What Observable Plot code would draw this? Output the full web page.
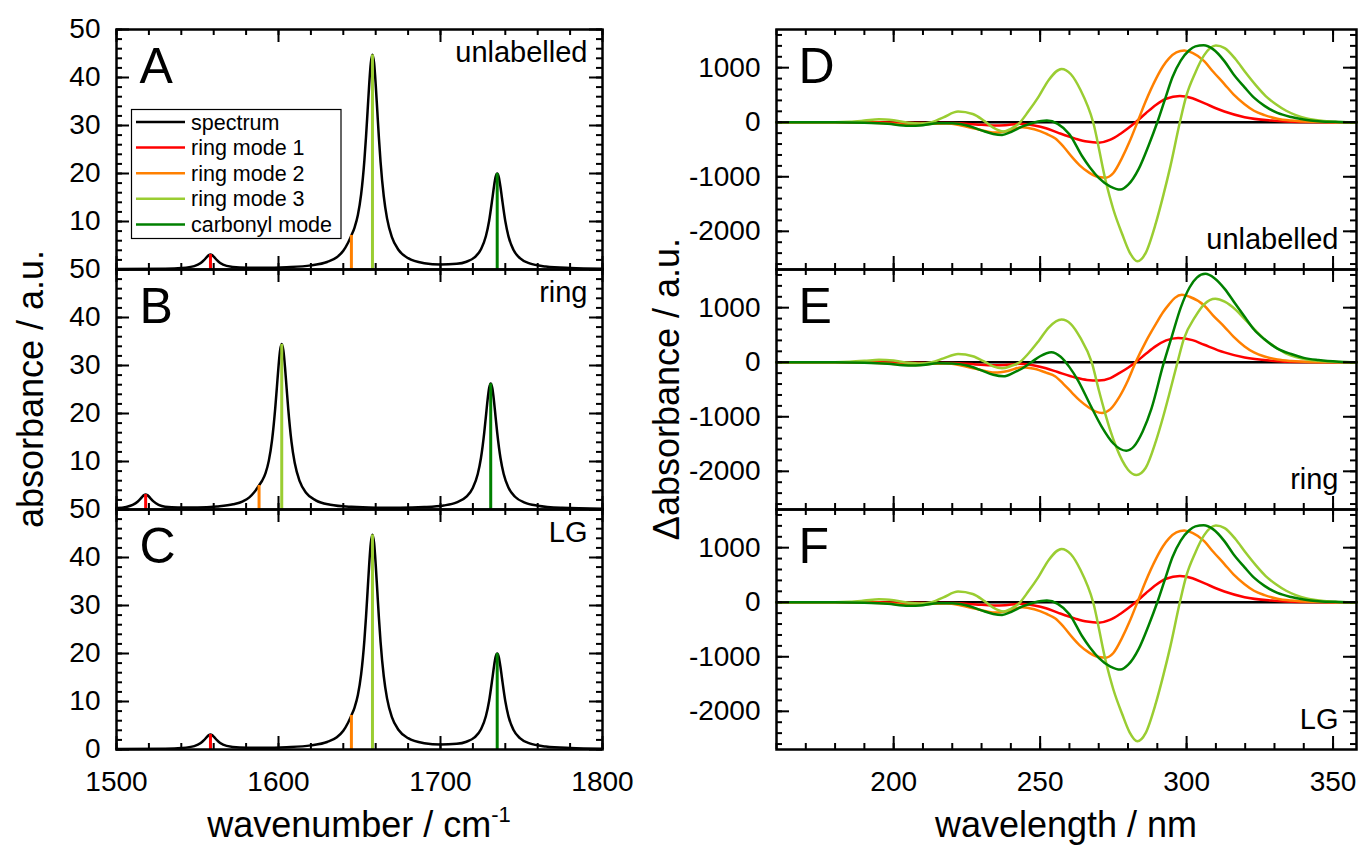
<!DOCTYPE html>
<html><head><meta charset="utf-8">
<script src="https://cdn.jsdelivr.net/npm/d3@7"></script>
<script src="https://cdn.jsdelivr.net/npm/@observablehq/plot@0.6"></script>
<style>
body{margin:0;background:#fff;}
#fig{position:relative;width:1361px;height:845px;overflow:hidden;background:#fff;}
.panel{position:absolute;}
#fig svg{max-width:none !important;overflow:visible;}
#overlay{position:absolute;left:0;top:0;pointer-events:none;}
</style></head><body><div id="fig"></div>
<script>
// ---------- labels / categories ----------
const modeNames = ["spectrum", "ring mode 1", "ring mode 2", "ring mode 3", "carbonyl mode"];
const modeColors = ["#000000", "#ff0000", "#ff8000", "#9acd32", "#008000"];
const panelLetters = ["A", "B", "C", "D", "E", "F"];
const panelLabels = ["unlabelled", "ring", "LG"];
const wavenumberTicks = [1500, 1600, 1700, 1800];
const absorbanceTicks = [0, 10, 20, 30, 40, 50];
const wavelengthTicks = [200, 250, 300, 350];
const deltaTicks = [-2000, -1000, 0, 1000];

// ---------- stick spectra (cm-1, height) ----------
const stickPosUnl = [1558, 1645, 1658, 1735];
const stickHtUnl = [3.1, 7.1, 44.7, 20.0];
const stickPosRing = [1518, 1588, 1602, 1731];
const stickHtRing = [3.1, 5.0, 34.4, 26.2];
const stickPosLG = [1558, 1645, 1658, 1735];
const stickHtLG = [3.1, 7.1, 44.7, 20.0];

// ---------- IR spectra [wavenumber, absorbance] ----------
const specUnl = [[1500,0.08],[1530,0.17],[1540,0.31],[1548,0.71],[1552,1.34],[1554,1.94],[1556,2.69],[1557,2.99],[1558,3.10],[1559,2.99],[1560,2.70],[1562,1.94],[1564,1.35],[1568,0.75],[1576,0.41],[1590,0.35],[1605,0.48],[1620,0.86],[1630,1.56],[1636,2.55],[1640,3.90],[1643,5.63],[1645,7.10],[1647,8.80],[1649,11.35],[1651,15.63],[1653,22.69],[1654,27.52],[1655,33.05],[1656,38.65],[1657,43.05],[1658,44.75],[1659,43.02],[1660,38.58],[1661,32.93],[1662,27.33],[1663,22.43],[1665,15.21],[1667,10.65],[1670,6.74],[1674,4.12],[1680,2.36],[1690,1.32],[1700,1.03],[1710,1.18],[1716,1.62],[1721,2.52],[1725,4.21],[1728,6.92],[1730,10.11],[1732,14.76],[1733,17.27],[1734,19.24],[1735,19.99],[1736,19.23],[1737,17.25],[1738,14.74],[1740,10.07],[1742,6.85],[1745,4.11],[1749,2.37],[1755,1.27],[1765,0.63],[1780,0.31],[1800,0.17]];
const specRing = [[1500,0.31],[1506,0.55],[1510,0.96],[1513,1.62],[1515,2.32],[1516,2.70],[1517,3.00],[1518,3.12],[1519,3.00],[1520,2.71],[1521,2.33],[1523,1.63],[1526,0.98],[1530,0.59],[1538,0.42],[1550,0.42],[1562,0.63],[1572,1.08],[1578,1.70],[1582,2.52],[1585,3.59],[1588,5.03],[1590,6.07],[1592,7.58],[1594,10.13],[1596,14.42],[1598,21.19],[1599,25.45],[1600,29.78],[1601,33.17],[1602,34.46],[1603,33.12],[1604,29.70],[1605,25.34],[1606,21.03],[1608,14.16],[1610,9.72],[1613,5.95],[1617,3.51],[1623,1.91],[1632,1.00],[1645,0.55],[1660,0.39],[1675,0.37],[1690,0.50],[1702,0.84],[1710,1.48],[1716,2.68],[1720,4.55],[1723,7.41],[1725,10.79],[1727,16.03],[1728,19.31],[1729,22.64],[1730,25.24],[1731,26.25],[1732,25.24],[1733,22.64],[1734,19.30],[1735,16.02],[1737,10.78],[1739,7.40],[1742,4.53],[1746,2.66],[1752,1.44],[1760,0.79],[1775,0.35],[1800,0.15]];
const specLG = specUnl;

// ---------- difference spectra [wavelength nm, delta absorbance] ----------
const dUnlRing1 = [[160,0],[195,0],[205,-8],[212,-12],[220,-15],[228,-40],[234,-60],[238,-55],[243,-30],[248,-60],[252,-110],[256,-190],[262,-300],[266,-355],[270,-374],[274,-320],[277,-226],[280,-110],[282.6,0],[286,160],[289.5,317],[293,430],[297.7,483],[302,440],[306,349],[312.9,196],[319.8,92],[328.9,31],[338,5],[358,0]];
const dUnlRing2 = [[160,0],[185,0],[195,-15],[203,-45],[208,-50],[213,-30],[218,-25],[223,-60],[228,-120],[234.6,-190],[239,-160],[244,-90],[248,-130],[252,-210],[255.2,-300],[258,-450],[260.9,-640],[263.5,-790],[266.6,-920],[269,-990],[272.3,-1016],[275,-930],[278,-650],[280.5,-360],[283.2,0],[286,380],[289.5,790],[292,1030],[294,1170],[296.5,1280],[299.2,1314],[302,1270],[306,1120],[309,930],[312.9,700],[316,510],[319.8,330],[323,210],[326.6,130],[331,65],[335.7,30],[342,8],[350,0],[358,0]];
const dUnlRing3 = [[160,0],[175,0],[185,10],[190,30],[195,55],[200,35],[205,-10],[209,-25],[213,0],[217,90],[222,195],[227,150],[231,20],[234,-100],[237.5,-172],[240,-120],[243,-10],[246,200],[249.5,470],[253,780],[257.3,978],[260.5,880],[263.7,600],[268.1,0],[272.3,-1060],[275,-1600],[278,-2050],[280.5,-2380],[283.2,-2550],[286,-2400],[289.5,-1850],[292,-1350],[294.5,-800],[297.7,0],[300,500],[302.9,900],[306,1230],[310,1406],[313,1360],[316.8,1150],[320,920],[323.6,680],[327,480],[330.5,330],[334,210],[337.3,130],[341,70],[344,40],[350,10],[358,0]];
const dUnlCarb = [[160,0],[180,0],[190,-10],[198,-30],[205,-65],[210,-55],[215,-20],[220,-20],[225,-60],[230,-150],[234,-215],[237,-232],[240,-180],[244,-75],[248,-5],[252.3,30],[256,-30],[260,-220],[264.3,-620],[267,-830],[270,-1020],[274,-1180],[277.4,-1235],[280,-1150],[283.7,-850],[287,-430],[290,0],[292.5,400],[295.2,830],[298,1130],[300.9,1320],[303,1390],[305.8,1410],[309,1340],[312.9,1120],[316,880],[319.8,640],[323,450],[326.6,300],[331,170],[335.7,95],[340,50],[345,20],[352,5],[358,0]];

const dRingRing1 = [[160,0],[195,0],[205,-8],[212,-12],[220,-15],[228,-40],[234,-55],[238,-50],[243,-30],[248,-60],[252,-110],[256,-180],[262,-280],[266,-325],[270,-337],[274,-290],[277,-200],[280,-100],[282.6,0],[286,150],[289.5,295],[293,400],[297.1,446],[302,405],[306,320],[312.9,180],[319.8,85],[328.9,28],[338,5],[358,0]];
const dRingRing2 = [[160,0],[185,0],[195,-15],[203,-45],[208,-50],[213,-30],[218,-25],[223,-60],[228,-120],[234.6,-190],[239,-160],[244,-90],[248,-120],[252,-190],[255.2,-260],[258,-400],[260.9,-560],[263.5,-700],[266.6,-830],[269,-905],[271.1,-930],[274,-860],[277,-640],[280,-330],[282.6,0],[286,370],[289.5,700],[292,920],[294,1060],[296,1180],[298.4,1235],[301,1200],[306,1040],[309,860],[312.9,650],[316,470],[319.8,290],[323,180],[326.6,105],[331,50],[335.7,22],[342,5],[350,0],[358,0]];
const dRingRing3 = [[160,0],[175,0],[185,10],[190,25],[195,45],[200,30],[205,-10],[209,-25],[213,0],[217,70],[222,152],[227,110],[231,10],[234,-75],[237,-110],[240,-70],[243,0],[246,160],[249.5,390],[253,640],[257.3,782],[260.5,700],[263.7,450],[267.6,0],[270,-505],[272,-900],[274,-1260],[276,-1560],[278,-1800],[280,-1970],[282.9,-2068],[286,-1940],[289.5,-1450],[292,-1000],[294,-600],[296.9,0],[299,420],[302.9,830],[306,1060],[309.8,1162],[313,1110],[316.8,960],[320,780],[323.6,580],[327,400],[330.5,270],[334,160],[337.3,95],[341,50],[344,30],[350,8],[358,0]];
const dRingCarb = [[160,0],[180,0],[190,-10],[198,-30],[205,-60],[210,-50],[215,-20],[220,-25],[225,-60],[230,-150],[234,-230],[237.5,-257],[241,-190],[244,-110],[247,0],[250,110],[253.8,183],[257,100],[260,-90],[263,-340],[267,-770],[271,-1180],[275,-1490],[279.4,-1622],[282,-1545],[285,-1270],[288,-850],[292,-50],[295,480],[298,1000],[301,1370],[303.5,1550],[306.4,1620],[309.5,1540],[313,1345],[316.5,1080],[320,820],[323,600],[326.6,420],[331,250],[335.7,150],[340,80],[345,40],[352,10],[358,0]];

const dLGRing1 = dUnlRing1, dLGRing2 = dUnlRing2, dLGRing3 = dUnlRing3, dLGCarb = dUnlCarb;

// ---------- layout ----------
const FONT = '"Liberation Sans", Arial, Helvetica, sans-serif';
const fig = document.getElementById("fig");
const frameH = 240;
const panelTops = [0, 240, 480];
const wnMinor = d3.range(1500, 1801, 20);
const absMinor = d3.range(0, 51, 2);
const wlMinor = d3.range(160, 358, 10);
const dMinor = d3.range(-2600, 1701, 200);
const tickStyle = {stroke: "black", strokeWidth: 2};

function frameTicks(xs, ys, innerW, innerH, len) {
  return [
    Plot.tickX(xs, {x: d => d, insetTop: innerH - len, ...tickStyle}),
    Plot.tickX(xs, {x: d => d, insetBottom: innerH - len, ...tickStyle}),
    Plot.tickY(ys, {y: d => d, insetRight: innerW - len, ...tickStyle}),
    Plot.tickY(ys, {y: d => d, insetLeft: innerW - len, ...tickStyle})
  ];
}

function place(svg, left, top, w) {
  const div = document.createElement("div");
  div.className = "panel";
  div.style.left = left + "px";
  div.style.top = top + "px";
  div.style.width = w + "px";
  div.appendChild(svg);
  fig.appendChild(div);
}

function makeLeft(i, spec, stickPos, stickHt) {
  const last = i === 2;
  const W = 612, ml = 116, mr = 10, mt = 29, mb = last ? 96 : 30;
  const innerW = W - ml - mr;
  const sticks = stickPos.map((x, k) => ({x, y: stickHt[k], c: modeColors[k + 1]}));
  // the "0" of an upper panel sits exactly under the "0" of the next panel's "50"
  const yLabels = last ? absorbanceTicks : absorbanceTicks.filter(d => d !== 0);
  const marks = [
    Plot.line(spec, {x: d => d[0], y: d => d[1], curve: "monotone-x", stroke: "black", strokeWidth: 2.5}),
    ...sticks.map(s => Plot.ruleX([s], {x: "x", y1: 0, y2: "y", stroke: s.c, strokeWidth: 3})),
    ...frameTicks(wnMinor, absMinor, innerW, frameH, 6),
    ...frameTicks(wavenumberTicks, absorbanceTicks, innerW, frameH, 13),
    Plot.frame({stroke: "black", strokeWidth: 2.5}),
    Plot.axisY({ticks: yLabels, tickSize: 0, tickPadding: 16, fontSize: 28, tickFormat: d => String(d), label: null}),
    Plot.text([panelLetters[i]], {text: d => d, frameAnchor: "top-left", dx: 23, dy: 18, lineAnchor: "top", fontSize: 50}),
    Plot.text([panelLabels[i]], {text: d => d, frameAnchor: "top-right", textAnchor: "end", dx: -15, dy: 32, lineAnchor: "bottom", fontSize: 29})
  ];
  if (last) marks.push(Plot.axisX({ticks: wavenumberTicks, tickSize: 0, tickPadding: 22, fontSize: 28, tickFormat: d => String(d), label: null}));
  const svg = Plot.plot({
    width: W, height: mt + frameH + mb,
    marginLeft: ml, marginRight: mr, marginTop: mt, marginBottom: mb,
    x: {domain: [1500, 1800], axis: null},
    y: {domain: [0, 50], axis: null},
    style: {background: "none", fontFamily: FONT, color: "black", overflow: "visible"},
    marks
  });
  place(svg, 0, panelTops[i], W);
}

function makeRight(i, curves) {
  const last = i === 2;
  const W = 681, ml = 96, mr = 5, mt = 29, mb = last ? 96 : 30;
  const innerW = W - ml - mr;
  const marks = [
    Plot.ruleY([0], {stroke: "black", strokeWidth: 2.5}),
    ...curves.map((c, k) => Plot.line(c, {x: d => d[0], y: d => d[1], curve: "monotone-x", stroke: modeColors[k + 1], strokeWidth: 2.5})),
    ...frameTicks(wlMinor, dMinor, innerW, frameH, 6),
    ...frameTicks(wavelengthTicks, deltaTicks, innerW, frameH, 13),
    Plot.frame({stroke: "black", strokeWidth: 2.5}),
    Plot.axisY({ticks: deltaTicks, tickSize: 0, tickPadding: 16, fontSize: 28, tickFormat: d => String(d), label: null}),
    Plot.text([panelLetters[i + 3]], {text: d => d, frameAnchor: "top-left", dx: 22, dy: 18, lineAnchor: "top", fontSize: 50}),
    Plot.text([panelLabels[i]], {text: d => d, frameAnchor: "bottom-right", textAnchor: "end", dx: -18, dy: -21, lineAnchor: "bottom", fontSize: 29})
  ];
  if (last) marks.push(Plot.axisX({ticks: wavelengthTicks, tickSize: 0, tickPadding: 22, fontSize: 28, tickFormat: d => String(d), label: null}));
  const svg = Plot.plot({
    width: W, height: mt + frameH + mb,
    marginLeft: ml, marginRight: mr, marginTop: mt, marginBottom: mb,
    x: {domain: [160, 358], axis: null},
    y: {domain: [-2700, 1700], axis: null},
    style: {background: "none", fontFamily: FONT, color: "black", overflow: "visible"},
    marks
  });
  place(svg, 680, panelTops[i], W);
}

makeLeft(0, specUnl, stickPosUnl, stickHtUnl);
makeLeft(1, specRing, stickPosRing, stickHtRing);
makeLeft(2, specLG, stickPosLG, stickHtLG);
makeRight(0, [dUnlRing1, dUnlRing2, dUnlRing3, dUnlCarb]);
makeRight(1, [dRingRing1, dRingRing2, dRingRing3, dRingCarb]);
makeRight(2, [dLGRing1, dLGRing2, dLGRing3, dLGCarb]);

// ---------- overlay: legend and axis titles ----------
const ov = d3.select(fig).append("svg").attr("id", "overlay")
  .attr("width", 1361).attr("height", 845)
  .style("font-family", FONT);
const lg = ov.append("g");
lg.append("rect").attr("x", 131.5).attr("y", 109.5).attr("width", 209.5).attr("height", 129)
  .attr("fill", "white").attr("stroke", "black").attr("stroke-width", 1.2);
modeNames.forEach((n, k) => {
  const y = 122 + k * 25.6;
  lg.append("line").attr("x1", 136).attr("x2", 185).attr("y1", y).attr("y2", y)
    .attr("stroke", modeColors[k]).attr("stroke-width", 2.5);
  lg.append("text").attr("x", 191).attr("y", y).attr("dy", "0.35em").attr("font-size", 21.5).text(n);
});
ov.append("text").attr("transform", "translate(43,389) rotate(-90)").attr("text-anchor", "middle")
  .attr("font-size", 36).text("absorbance / a.u.");
ov.append("text").attr("transform", "translate(679,389) rotate(-90)").attr("text-anchor", "middle")
  .attr("font-size", 36).text("Δabsorbance / a.u.");
const t1 = ov.append("text").attr("x", 359).attr("y", 837).attr("text-anchor", "middle").attr("font-size", 36);
t1.append("tspan").text("wavenumber / cm");
t1.append("tspan").attr("dy", -15).attr("font-size", 22).text("-1");
ov.append("text").attr("x", 1066).attr("y", 837).attr("text-anchor", "middle").attr("font-size", 36).text("wavelength / nm");
</script></body></html>
